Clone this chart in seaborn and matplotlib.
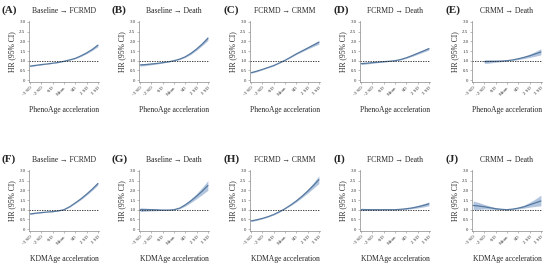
import numpy as np
import pandas as pd
import matplotlib
matplotlib.use('Agg')
import matplotlib.pyplot as plt
import seaborn as sns

# x positions in SD units, half-SD steps
x_sd = [-3, -2.5, -2, -1.5, -1, -0.5, 0, 0.5, 1, 1.5, 2, 2.5, 3]
tick_pos = [-3, -2, -1, 0, 1, 2, 3]
tick_labels = ['-3 SD', '-2 SD', '-SD', 'Mean', 'SD', '2 SD', '3 SD']

letters = ['(A)', '(B)', '(C)', '(D)', '(E)', '(F)', '(G)', '(H)', '(I)', '(J)']
titles = ['Baseline → FCRMD', 'Baseline → Death', 'FCRMD → CRMM', 'FCRMD → Death', 'CRMM → Death',
          'Baseline → FCRMD', 'Baseline → Death', 'FCRMD → CRMM', 'FCRMD → Death', 'CRMM → Death']
xlabels = ['PhenoAge acceleration'] * 5 + ['KDMAge acceleration'] * 5

# hazard ratio estimates (None = not drawn)
hr_a = [0.72, 0.76, 0.80, 0.83, 0.87, 0.91, 0.97, 1.04, 1.12, 1.25, 1.40, 1.58, 1.80]
hr_b = [0.78, 0.80, 0.83, 0.86, 0.90, 0.94, 1.00, 1.08, 1.20, 1.38, 1.60, 1.86, 2.15]
hr_c = [0.38, 0.46, 0.55, 0.65, 0.75, 0.88, 1.02, 1.18, 1.35, 1.50, 1.65, 1.80, 1.95]
hr_d = [0.85, 0.87, 0.90, 0.92, 0.95, 0.97, 1.00, 1.06, 1.15, 1.26, 1.38, 1.50, 1.62]
hr_e = [None, None, 0.95, 0.96, 0.97, 0.98, 1.00, 1.04, 1.10, 1.17, 1.25, 1.35, 1.45]
hr_f = [0.78, 0.82, 0.85, 0.88, 0.90, 0.94, 1.00, 1.15, 1.35, 1.56, 1.80, 2.06, 2.35]
hr_g = [1.00, 1.00, 1.00, 0.99, 0.98, 0.98, 1.00, 1.08, 1.25, 1.46, 1.70, 1.96, 2.25]
hr_h = [0.42, 0.48, 0.55, 0.64, 0.75, 0.89, 1.05, 1.24, 1.45, 1.69, 1.95, 2.24, 2.55]
hr_i = [1.00, 1.00, 1.00, 1.00, 1.00, 1.00, 1.00, 1.02, 1.05, 1.09, 1.15, 1.22, 1.30]
hr_j = [1.22, 1.19, 1.15, 1.10, 1.05, 1.02, 1.00, 1.03, 1.08, 1.15, 1.25, 1.35, 1.45]

# 95% CI lower / upper
lo_a = [0.69, 0.74, 0.78, 0.82, 0.86, 0.90, 0.96, 1.03, 1.10, 1.22, 1.36, 1.53, 1.72]
up_a = [0.75, 0.78, 0.82, 0.84, 0.88, 0.92, 0.98, 1.05, 1.14, 1.28, 1.44, 1.63, 1.88]
lo_b = [0.72, 0.75, 0.79, 0.83, 0.88, 0.93, 0.99, 1.06, 1.17, 1.33, 1.54, 1.78, 2.04]
up_b = [0.85, 0.86, 0.87, 0.89, 0.92, 0.95, 1.01, 1.10, 1.23, 1.43, 1.66, 1.95, 2.28]
lo_c = [0.35, 0.43, 0.53, 0.63, 0.73, 0.87, 1.01, 1.16, 1.32, 1.46, 1.60, 1.73, 1.85]
up_c = [0.42, 0.49, 0.57, 0.67, 0.77, 0.89, 1.03, 1.20, 1.38, 1.54, 1.70, 1.88, 2.05]
lo_d = [0.80, 0.83, 0.87, 0.90, 0.93, 0.96, 0.99, 1.04, 1.12, 1.22, 1.33, 1.44, 1.55]
up_d = [0.90, 0.91, 0.93, 0.94, 0.97, 0.98, 1.01, 1.08, 1.18, 1.30, 1.43, 1.56, 1.70]
lo_e = [None, None, 0.85, 0.88, 0.92, 0.95, 0.99, 1.02, 1.06, 1.11, 1.17, 1.23, 1.30]
up_e = [None, None, 1.05, 1.04, 1.02, 1.01, 1.01, 1.06, 1.14, 1.23, 1.34, 1.47, 1.62]
lo_f = [0.76, 0.80, 0.84, 0.87, 0.89, 0.93, 0.99, 1.13, 1.32, 1.52, 1.75, 2.00, 2.27]
up_f = [0.80, 0.84, 0.86, 0.89, 0.91, 0.95, 1.01, 1.17, 1.38, 1.60, 1.85, 2.12, 2.43]
lo_g = [0.90, 0.92, 0.94, 0.95, 0.96, 0.97, 0.99, 1.05, 1.19, 1.37, 1.57, 1.78, 2.00]
up_g = [1.10, 1.08, 1.06, 1.03, 1.00, 0.99, 1.01, 1.11, 1.31, 1.55, 1.83, 2.15, 2.50]
lo_h = [0.39, 0.45, 0.53, 0.62, 0.73, 0.87, 1.04, 1.21, 1.40, 1.62, 1.85, 2.10, 2.35]
up_h = [0.45, 0.51, 0.57, 0.66, 0.77, 0.91, 1.06, 1.27, 1.50, 1.76, 2.05, 2.38, 2.75]
lo_i = [0.95, 0.96, 0.97, 0.98, 0.99, 0.99, 0.99, 1.00, 1.02, 1.05, 1.09, 1.14, 1.20]
up_i = [1.08, 1.06, 1.04, 1.03, 1.01, 1.01, 1.01, 1.04, 1.08, 1.13, 1.21, 1.30, 1.40]
lo_j = [1.00, 1.02, 1.04, 1.03, 1.01, 1.00, 0.99, 1.01, 1.04, 1.08, 1.13, 1.17, 1.20]
up_j = [1.45, 1.37, 1.27, 1.18, 1.10, 1.04, 1.01, 1.05, 1.13, 1.23, 1.38, 1.55, 1.75]

hrs = [hr_a, hr_b, hr_c, hr_d, hr_e, hr_f, hr_g, hr_h, hr_i, hr_j]
los = [lo_a, lo_b, lo_c, lo_d, lo_e, lo_f, lo_g, lo_h, lo_i, lo_j]
ups = [up_a, up_b, up_c, up_d, up_e, up_f, up_g, up_h, up_i, up_j]

sns.set_style('white')
plt.rcParams['font.family'] = ['Liberation Serif', 'DejaVu Serif']

fig = plt.figure(figsize=(5.5, 2.65), dpi=100)
W, H = 550.0, 265.0
col_left = [29, 139, 250, 360, 472]
row_top = [21, 170]
ax_w, ax_h = 70, 61

line_color = '#56789f'
band_color = '#a5bbd9'

for i in range(10):
    r, c = divmod(i, 5)
    ax = fig.add_axes([col_left[c] / W, 1 - (row_top[r] + ax_h) / H, ax_w / W, ax_h / H])
    df = pd.DataFrame({'x': x_sd, 'hr': hrs[i], 'lo': los[i], 'up': ups[i]}).dropna()
    ax.fill_between(df['x'], df['lo'], df['up'], color=band_color, alpha=0.85, lw=0)
    sns.lineplot(data=df, x='x', y='hr', ax=ax, color=line_color, lw=0.9)
    ax.axhline(1.0, color='#222222', ls=(0, (1.6, 1.4)), lw=0.6)
    ax.set_xlim(-3.1, 3.1)
    ax.set_ylim(-0.1, 3.05)
    ax.set_yticks([0, 0.5, 1.0, 1.5, 2.0, 2.5, 3.0])
    ax.set_yticklabels(['0', '0.5', '1.0', '1.5', '2.0', '2.5', '3.0'], fontsize=3.5, color='#333333')
    ax.set_xticks(tick_pos)
    ax.set_xticklabels(tick_labels, fontsize=3.6, rotation=45, ha='right', rotation_mode='anchor', color='#333333')
    ax.tick_params(axis='both', length=1.5, width=0.4, pad=1, color='#888888')
    ax.tick_params(axis='both', which='both', bottom=True, left=True)
    for s in ['top', 'right']:
        ax.spines[s].set_visible(False)
    for s in ['left', 'bottom']:
        ax.spines[s].set_linewidth(0.5)
        ax.spines[s].set_color('#888888')
    ax.set_ylabel('HR (95% CI)', fontsize=5.5, labelpad=2)
    ax.set_xlabel(xlabels[i], fontsize=5.5, labelpad=7)
    ax.set_title(titles[i], fontsize=5.5, pad=6)
    fig.text((col_left[c] - 27) / W, 1 - (row_top[r] - 11) / H, letters[i], fontsize=8,
             fontweight='bold', va='center', ha='left')

fig.savefig('out.png', dpi=100)
